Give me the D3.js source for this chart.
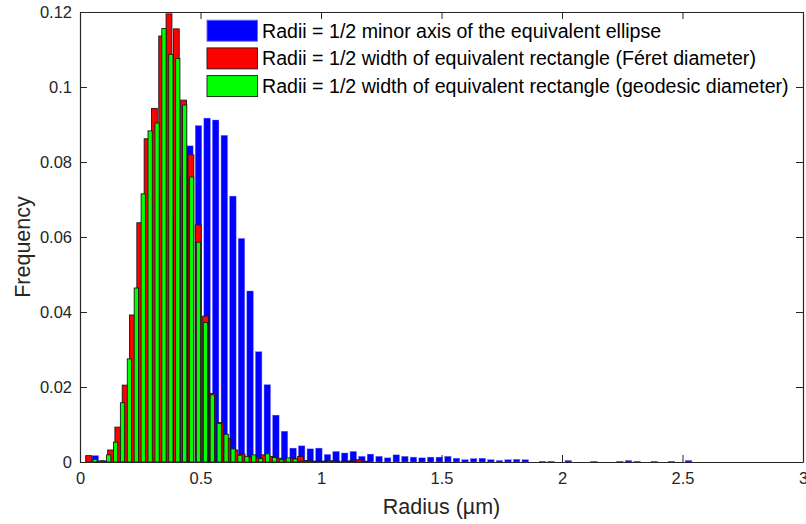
<!DOCTYPE html>
<html>
<head>
<meta charset="utf-8">
<script src="https://cdn.jsdelivr.net/npm/d3@7"></script>
<style>
  html, body { margin: 0; padding: 0; background: #fff; }
  svg { display: block; font-family: "Liberation Sans", Arial, Helvetica, sans-serif; }
</style>
</head>
<body>
<svg id="chart" width="806" height="524"></svg>
<script>
// Histogram bin layout (centre of first bin and bin width, in µm)
const ellipseBinStart = 0.0635, ellipseBinWidth = 0.03568;
const feretBinStart = 0.0357, feretBinWidth = 0.03033;
const geodesicBinStart = 0.0618, geodesicBinWidth = 0.02866;

// Relative frequencies per bin
const ellipseFreq = [
  0.0017, 0.0002, 0.0020, 0.0060, 0.0120, 0.0200, 0.0310, 0.0430, 0.0550, 0.0650,
  0.0765, 0.0843, 0.0897, 0.0917, 0.0912, 0.0871, 0.0709, 0.0596, 0.0456, 0.0294,
  0.0206, 0.0125, 0.0082, 0.0037, 0.0043, 0.0035, 0.0037, 0.0020, 0.0028, 0.0024,
  0.0028, 0.0015, 0.0021, 0.0015, 0.0011, 0.0019, 0.0015, 0.0013, 0.0011, 0.0013,
  0.0013, 0.0015, 0.0010, 0.0006, 0.0009, 0.0010, 0.0006, 0.0004, 0.0006, 0.0007,
  0.0006, 0.0000, 0.0002, 0.0002, 0.0000, 0.0004, 0.0000, 0.0000, 0.0002, 0.0000,
  0.0000, 0.0002, 0.0004, 0.0002, 0.0000, 0.0002, 0.0000, 0.0002, 0.0000, 0.0004
];
const feretFreq = [
  0.0017, 0.0002, 0.0003, 0.0032, 0.0093, 0.0205, 0.0392, 0.0638, 0.0862, 0.0943,
  0.1136, 0.1195, 0.1155, 0.0965, 0.0819, 0.0632, 0.0389, 0.0183, 0.0105, 0.0063,
  0.0032, 0.0021, 0.0013, 0.0011, 0.0019, 0.0015, 0.0010, 0.0006, 0.0009, 0.0015,
  0.0004, 0.0002, 0.0002, 0.0003, 0.0002, 0.0002, 0.0003, 0.0006, 0.0002
];
const geodesicFreq = [
  0.0007, 0.0003, 0.0019, 0.0053, 0.0158, 0.0275, 0.0464, 0.0715, 0.0883, 0.0904,
  0.1156, 0.1087, 0.1076, 0.0952, 0.0760, 0.0586, 0.0372, 0.0179, 0.0103, 0.0074,
  0.0035, 0.0018, 0.0015, 0.0019, 0.0009, 0.0022, 0.0012, 0.0006, 0.0011, 0.0008,
  0.0003, 0.0003, 0.0002, 0.0002, 0.0003, 0.0002, 0.0002, 0.0002
];

const xTicks = [0, 0.5, 1, 1.5, 2, 2.5, 3];
const xTickLabels = ["0", "0.5", "1", "1.5", "2", "2.5", "3"];
const yTicks = [0, 0.02, 0.04, 0.06, 0.08, 0.1, 0.12];
const yTickLabels = ["0", "0.02", "0.04", "0.06", "0.08", "0.1", "0.12"];

const legendLabels = [
  "Radii = 1/2 minor axis of the equivalent ellipse",
  "Radii = 1/2 width of equivalent rectangle (Féret diameter)",
  "Radii = 1/2 width of equivalent rectangle (geodesic diameter)"
];

const svg = d3.select("#chart");
const axisColor = "#262626";

const x = d3.scaleLinear().domain([0, 3]).range([80, 803]);
const y = d3.scaleLinear().domain([0, 0.12]).range([462, 12]);

// one histogram series drawn as bars centred on their bins
function drawBars(values, start, width, fraction, fill, stroke, strokeWidth) {
  const bins = values.map((v, i) => ({ c: start + i * width, v }));
  svg.append("g")
    .selectAll("rect")
    .data(bins.filter(d => d.v > 0))
    .join("rect")
    .attr("x", d => x(d.c - width * fraction / 2))
    .attr("width", d => x(d.c + width * fraction / 2) - x(d.c - width * fraction / 2))
    .attr("y", d => y(d.v))
    .attr("height", d => y(0) - y(d.v))
    .attr("fill", fill)
    .attr("stroke", stroke)
    .attr("stroke-width", strokeWidth);
}

drawBars(ellipseFreq, ellipseBinStart, ellipseBinWidth, 0.75, "#0000ff", "#6666ff", 0.4);
drawBars(feretFreq, feretBinStart, feretBinWidth, 0.8, "#ff0000", "#1a1a1a", 0.9);
drawBars(geodesicFreq, geodesicBinStart, geodesicBinWidth, 0.62, "#00ff00", "#1a1a1a", 0.9);

// axes with inward ticks on all four sides
const tickLen = 7;
const gx = svg.append("g").attr("transform", `translate(0,${y(0)})`)
  .call(d3.axisBottom(x).tickValues(xTicks).tickFormat((d, i) => xTickLabels[i])
    .tickSizeInner(-tickLen).tickSizeOuter(0).tickPadding(10));
const gy = svg.append("g").attr("transform", `translate(${x(0)},0)`)
  .call(d3.axisLeft(y).tickValues(yTicks).tickFormat((d, i) => yTickLabels[i])
    .tickSizeInner(-tickLen).tickSizeOuter(0).tickPadding(8));
const gt = svg.append("g").attr("transform", `translate(0,${y(0.12)})`)
  .call(d3.axisTop(x).tickValues(xTicks).tickFormat("").tickSizeInner(-tickLen).tickSizeOuter(0));
const gr = svg.append("g").attr("transform", `translate(${x(3)},0)`)
  .call(d3.axisRight(y).tickValues(yTicks).tickFormat("").tickSizeInner(-tickLen).tickSizeOuter(0));

[gx, gy, gt, gr].forEach(g => {
  g.select(".domain").attr("stroke", axisColor).attr("stroke-width", 1.2);
  g.selectAll(".tick line").attr("stroke", axisColor).attr("stroke-width", 1);
  g.selectAll(".tick text").attr("fill", axisColor)
    .style("font-size", "16.5px").style("font-family", "'Liberation Sans', Arial, sans-serif");
});

// axis titles
svg.append("text")
  .attr("x", (x(0) + x(3)) / 2).attr("y", 514)
  .attr("text-anchor", "middle").attr("fill", axisColor)
  .style("font-size", "21.5px")
  .text("Radius (µm)");
svg.append("text")
  .attr("transform", `translate(30,${(y(0) + y(0.12)) / 2 + 10}) rotate(-90)`)
  .attr("text-anchor", "middle").attr("fill", axisColor)
  .style("font-size", "21.5px")
  .text("Frequency");

// legend
const legendItems = [
  { label: legendLabels[0], fill: "#0000ff", stroke: "#6666ff" },
  { label: legendLabels[1], fill: "#ff0000", stroke: "#1a1a1a" },
  { label: legendLabels[2], fill: "#00ff00", stroke: "#1a1a1a" }
];
const legend = svg.append("g");
legendItems.forEach((d, i) => {
  const cy = 30.7 + i * 27.7;
  legend.append("rect")
    .attr("x", 207).attr("y", cy - 10.5).attr("width", 50.5).attr("height", 21)
    .attr("fill", d.fill).attr("stroke", d.stroke).attr("stroke-width", 0.9);
  legend.append("text")
    .attr("x", 262).attr("y", cy).attr("dy", "0.36em")
    .attr("fill", "#000").style("font-size", "19.6px")
    .text(d.label);
});
</script>
</body>
</html>
